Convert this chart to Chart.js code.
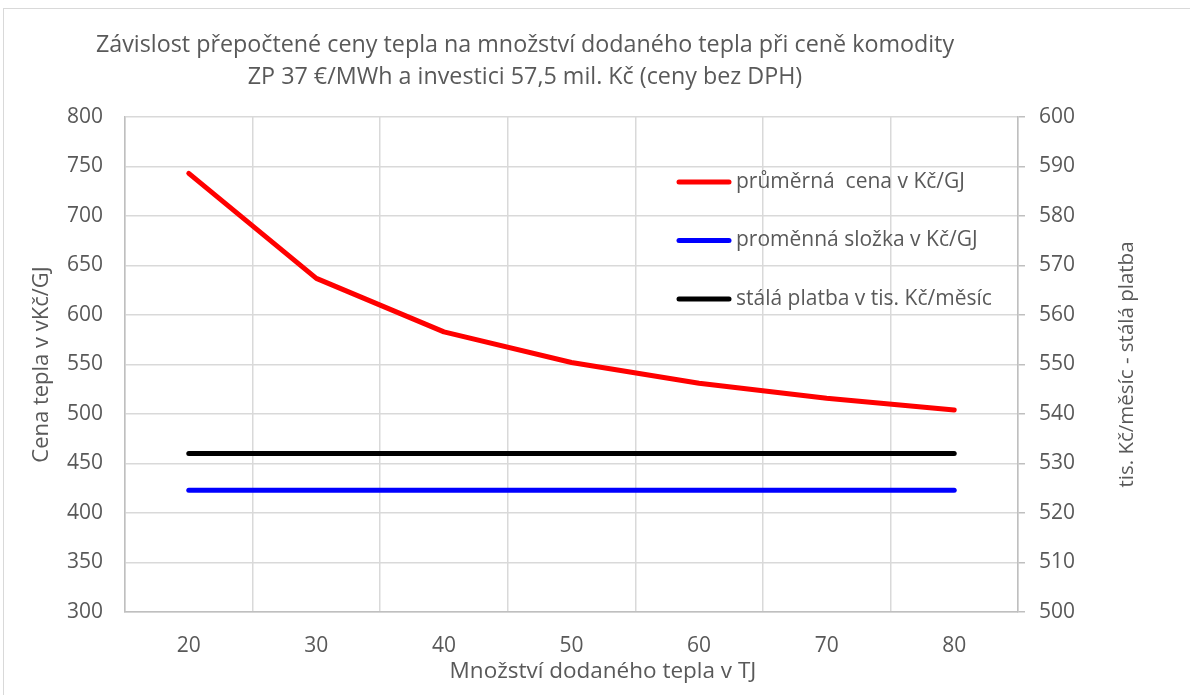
<!DOCTYPE html>
<html>
<head>
<meta charset="utf-8">
<script src="https://cdn.jsdelivr.net/npm/chart.js@4"></script>
<style>
    body { margin: 0; background: #fff; }
    #wrap { position: relative; width: 1190px; height: 695px; overflow: hidden; }
    #frame { position: absolute; left: 3px; top: 8px; width: 1190px; height: 700px; border: 1px solid #d9d9d9; box-sizing: border-box; }
    canvas { position: absolute; left: 0; top: 0; }
</style>
</head>
<body>
<div id="wrap">
    <div id="frame"></div>
    <canvas id="chart" width="1190" height="695"></canvas>
</div>
<script>
// data
const categories = ["20", "30", "40", "50", "60", "70", "80"];
const avgPrice = [743, 637, 583, 552, 531, 516, 504];
const variablePart = [423, 423, 423, 423, 423, 423, 423];
const fixedPayment = [532, 532, 532, 532, 532, 532, 532];
const seriesNames = ["průměrná  cena v Kč/GJ", "proměnná složka v Kč/GJ", "stálá platba v tis. Kč/měsíc"];
const seriesColors = ["#ff0000", "#0000ff", "#000000"];
const titleLines = ["Závislost přepočtené ceny tepla na množství dodaného tepla při ceně komodity", "ZP 37 €/MWh a investici 57,5 mil. Kč (ceny bez DPH)"];
const xTitle = "Množství dodaného tepla v TJ";
const yTitle = "Cena tepla v vKč/GJ";
const y1Title = "tis. Kč/měsíc - stálá platba";

const textColor = "#595959";
Chart.defaults.font.family = "'Open Sans', sans-serif";
Chart.defaults.font.size = 21;
Chart.defaults.color = textColor;

// titles and legend drawn by hand (Excel puts them where Chart.js won't)
const overlay = {
    id: "overlay",
    afterDraw(chart) {
        const ctx = chart.ctx;
        const area = chart.chartArea;
        ctx.save();
        ctx.fillStyle = textColor;
        ctx.textBaseline = "middle";
        ctx.textAlign = "center";
        ctx.font = "23.3px 'Open Sans'";
        ctx.fillText(titleLines[0], 525, 45);
        ctx.fillText(titleLines[1], 525, 77);

        ctx.font = "22.5px 'Open Sans'";
        ctx.fillText(xTitle, 603, 672);

        const midY = (area.top + area.bottom) / 2;
        ctx.save();
        ctx.translate(42, midY);
        ctx.rotate(-Math.PI / 2);
        ctx.font = "22px 'Open Sans'";
        ctx.fillText(yTitle, 0, 0);
        ctx.restore();
        ctx.save();
        ctx.translate(1127, midY);
        ctx.rotate(-Math.PI / 2);
        ctx.font = "20.5px 'Open Sans'";
        ctx.fillText(y1Title, 0, 0);
        ctx.restore();

        // legend inside the plot
        ctx.font = "21px 'Open Sans'";
        ctx.textAlign = "left";
        ctx.lineWidth = 5;
        ctx.lineCap = "round";
        seriesNames.forEach((name, i) => {
            const y = 182 + i * 58.5;
            ctx.strokeStyle = seriesColors[i];
            ctx.beginPath();
            ctx.moveTo(679, y);
            ctx.lineTo(729, y);
            ctx.stroke();
            ctx.fillText(name, 736, y);
        });
        ctx.restore();
    }
};

const ctx = document.getElementById("chart").getContext("2d");
new Chart(ctx, {
    type: "line",
    data: {
        labels: categories,
        datasets: [
            { label: seriesNames[0], data: avgPrice, borderColor: seriesColors[0], yAxisID: "y" },
            { label: seriesNames[1], data: variablePart, borderColor: seriesColors[1], yAxisID: "y" },
            { label: seriesNames[2], data: fixedPayment, borderColor: seriesColors[2], yAxisID: "y1" }
        ]
    },
    options: {
        responsive: false,
        animation: false,
        elements: {
            line: { borderWidth: 5, borderCapStyle: "round", borderJoinStyle: "round", tension: 0 },
            point: { radius: 0 }
        },
        layout: { padding: { top: 117, left: 0, right: 0, bottom: 0 } },
        plugins: {
            legend: { display: false },
            title: { display: false },
            tooltip: { enabled: false }
        },
        scales: {
            x: {
                offset: true,
                grid: { offset: true, color: "#d9d9d9", lineWidth: 1.5, drawTicks: false },
                border: { color: "#bfbfbf", width: 1.5 },
                ticks: { padding: 21 },
                afterFit(scale) { scale.height = 83; }
            },
            y: {
                position: "left",
                min: 300,
                max: 800,
                ticks: { stepSize: 50, padding: 22 },
                grid: { color: "#d9d9d9", lineWidth: 1.5, drawTicks: false },
                border: { color: "#bfbfbf", width: 1.5 },
                afterFit(scale) { scale.width = 125; }
            },
            y1: {
                position: "right",
                min: 500,
                max: 600,
                ticks: { stepSize: 10, padding: 14 },
                grid: { drawOnChartArea: false, tickLength: 7, color: "#bfbfbf", lineWidth: 1.5 },
                border: { color: "#bfbfbf", width: 1.5 },
                afterFit(scale) { scale.width = 172; }
            }
        }
    },
    plugins: [overlay]
});
</script>
</body>
</html>
